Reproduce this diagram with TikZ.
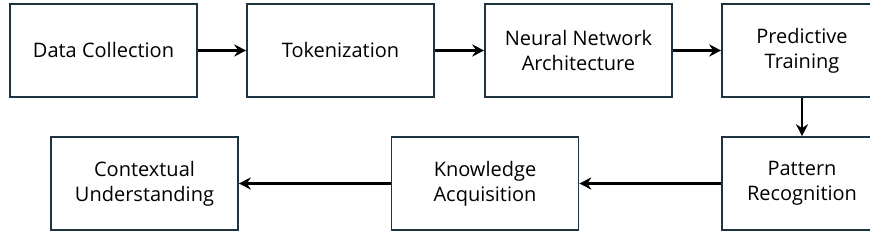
\documentclass[tikz,border=0pt]{standalone}
\usepackage{fontspec}
\setmainfont{Open Sans}[Ligatures=NoCommon]
\usetikzlibrary{arrows.meta}
\definecolor{boxline}{HTML}{1E3340}
\tikzset{
  stage/.style={draw=boxline, line width=1.6pt, minimum width=187pt, minimum height=93pt,
    align=center, inner sep=0pt, font=\fontsize{20}{25}\selectfont},
  narrow/.style={minimum width=160pt},
  flow/.style={-{Stealth[length=12pt,width=12pt,inset=4pt]}, line width=2.6pt}
}
\begin{document}
\begin{tikzpicture}[x=1pt,y=-1pt]
  \clip (0,0) rectangle (870,237);
  % top row
  \node[stage] (collect) at (103.5,50.5) {Data Collection};
  \node[stage] (token) at (340.5,50.5) {Tokenization};
  \node[stage] (network) at (578.5,50.5) {Neural Network\\Architecture};
  \node[stage,narrow] (train) at (802,50.5) {Predictive\\Training};
  % bottom row
  \node[stage,narrow] (pattern) at (802,183.5) {Pattern\\Recognition};
  \node[stage] (knowledge) at (485,183.5) {Knowledge\\Acquisition};
  \node[stage] (context) at (144.5,183.5) {Contextual\\Understanding};
  % arrows
  \draw[flow] (collect) -- (token);
  \draw[flow] (token) -- (network);
  \draw[flow] (network) -- (train);
  \draw[flow] (train) -- (pattern);
  \draw[flow] (pattern) -- (knowledge);
  \draw[flow] (knowledge) -- (context);
\end{tikzpicture}
\end{document}
